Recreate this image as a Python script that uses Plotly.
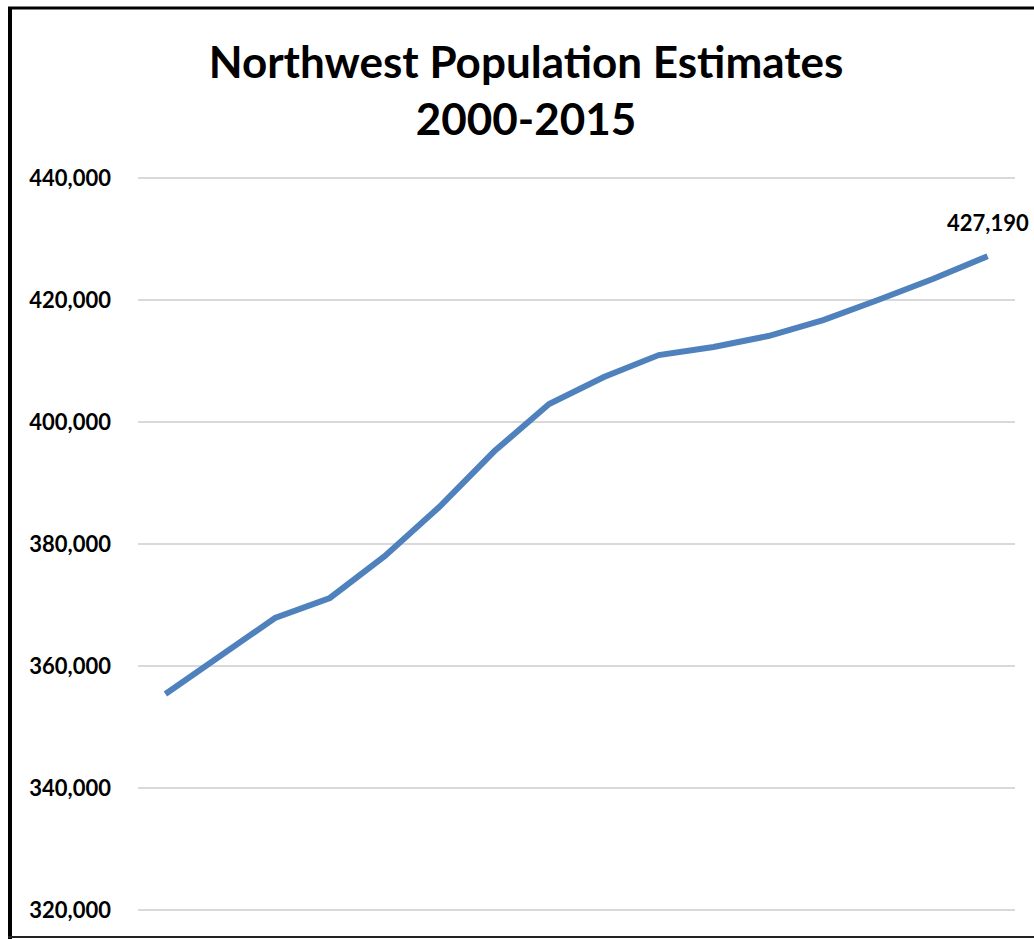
import plotly.graph_objects as go

# Annual population estimates, Northwest region
years = list(range(2000, 2016))
population = [355410, 361640, 367870, 371150, 378000, 386100, 395200, 402950,
              407380, 410980, 412300, 414100, 416720, 420000, 423440, 427190]

y_ticks = [320000, 340000, 360000, 380000, 400000, 420000, 440000]
y_tick_text = [f"{v:,}" for v in y_ticks]

W, H = 1034, 939
L, R, T, B = 138, 19, 175, 26
pw, ph = W - L - R, H - T - B

def px_x(p):
    return (p - L) / pw

def px_y(p):
    return (H - B - p) / ph

fig = go.Figure()
fig.add_trace(go.Scatter(
    x=list(range(len(years))),
    y=population,
    mode="lines",
    line=dict(color="#4F81BD", width=6),
    text=[str(y) for y in years],
    hovertemplate="%{text}: %{y:,}<extra></extra>",
))

# Label on the final estimate
fig.add_annotation(
    x=len(years) - 1, y=population[-1],
    xref="x", yref="y",
    text=f"<b>{population[-1]:,}</b>",
    showarrow=False, yshift=34,
    font=dict(family="Lato", size=22, color="#000000"),
)

fig.update_layout(
    width=W, height=H,
    margin=dict(l=L, r=R, t=T, b=B),
    paper_bgcolor="white",
    plot_bgcolor="white",
    showlegend=False,
    title=dict(
        text="<b>Northwest Population Estimates<br>2000-2015</b>",
        x=526 / W, xanchor="center",
        y=1 - 78 / H, yanchor="middle",
        font=dict(family="Lato", size=44, color="#000000"),
    ),
    xaxis=dict(
        range=[-0.5, len(years) - 0.5],
        showticklabels=False,
        showgrid=False,
        zeroline=False,
        showline=False,
        ticks="",
    ),
    yaxis=dict(
        range=[319500, 440500],
        tickvals=y_ticks,
        ticktext=[f"<b>{t}</b>" for t in y_tick_text],
        tickfont=dict(family="Lato", size=22, color="#000000"),
        ticklabelstandoff=26,
        showgrid=True,
        gridcolor="#D9D9D9",
        gridwidth=1.5,
        zeroline=False,
        showline=False,
        ticks="",
    ),
    shapes=[
        # chart frame: left, top, bottom edges
        dict(type="line", xref="paper", yref="paper",
             x0=px_x(10), x1=px_x(10), y0=px_y(7), y1=px_y(939),
             line=dict(color="#000000", width=4)),
        dict(type="line", xref="paper", yref="paper",
             x0=px_x(8), x1=px_x(1040), y0=px_y(8), y1=px_y(8),
             line=dict(color="#000000", width=3)),
        dict(type="line", xref="paper", yref="paper",
             x0=px_x(8), x1=px_x(1040), y0=px_y(937), y1=px_y(937),
             line=dict(color="#222222", width=2)),
    ],
)

fig.write_html("out.html")
